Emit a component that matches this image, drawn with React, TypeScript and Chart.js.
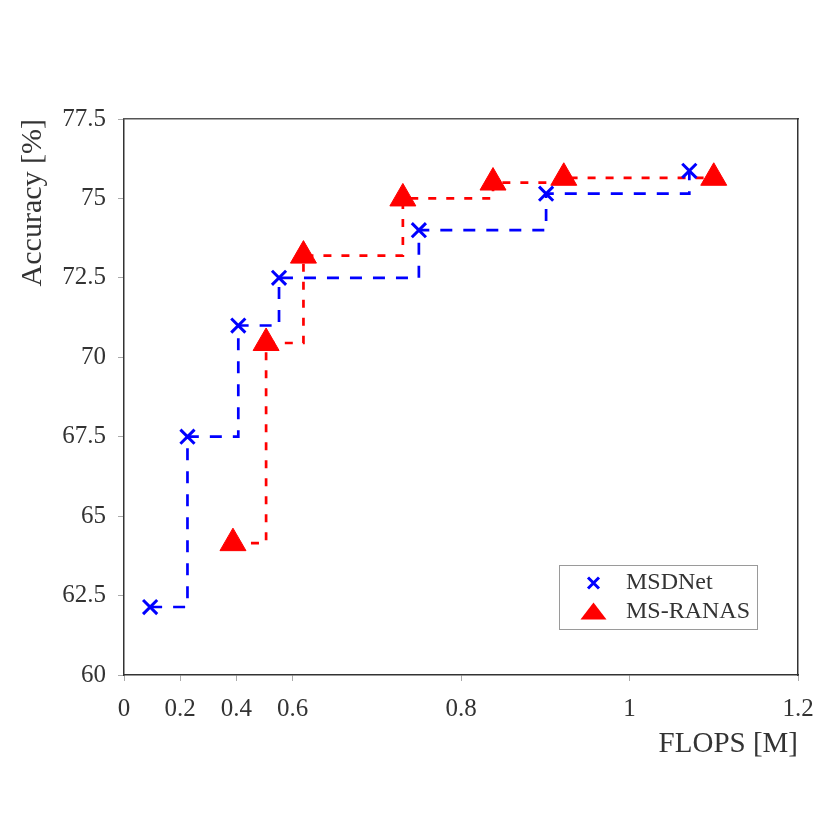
import React, { useEffect, useRef } from "react";
import { Chart, LinearScale, registerables } from "chart.js";

// ---------- data ----------
const seriesNames = ["MSDNet", "MS-RANAS"];
const msdnetFlops = [0.093, 0.226, 0.407, 0.552, 0.75, 0.901, 1.071];
const msdnetAccuracy = [62.14, 67.5, 71.0, 72.5, 74.0, 75.15, 75.87];
const msranasFlops = [0.388, 0.506, 0.613, 0.731, 0.838, 0.922, 1.1];
const msranasAccuracy = [64.15, 70.45, 73.2, 75.0, 75.5, 75.65, 75.65];

const xTickValues = [0, 0.2, 0.4, 0.6, 0.8, 1, 1.2];
const xTickLabels = ["0", "0.2", "0.4", "0.6", "0.8", "1", "1.2"];
const yTickValues = [60, 62.5, 65, 67.5, 70, 72.5, 75, 77.5];
const yTickLabels = ["60", "62.5", "65", "67.5", "70", "72.5", "75", "77.5"];

// the x axis of the original is piecewise linear: 0..0.6 takes the first quarter
const xBreakValues = [0, 0.6, 1.2];
const xBreakFractions = [0, 0.25, 1];

function valueToFraction(v: number): number {
  for (let i = 1; i < xBreakValues.length; i++) {
    if (v <= xBreakValues[i] || i === xBreakValues.length - 1) {
      const a = xBreakValues[i - 1], b = xBreakValues[i];
      const fa = xBreakFractions[i - 1], fb = xBreakFractions[i];
      return fa + ((v - a) / (b - a)) * (fb - fa);
    }
  }
  return 0;
}
function fractionToValue(f: number): number {
  for (let i = 1; i < xBreakFractions.length; i++) {
    if (f <= xBreakFractions[i] || i === xBreakFractions.length - 1) {
      const a = xBreakFractions[i - 1], b = xBreakFractions[i];
      const va = xBreakValues[i - 1], vb = xBreakValues[i];
      return va + ((f - a) / (b - a)) * (vb - va);
    }
  }
  return 0;
}

class PiecewiseLinearScale extends LinearScale {
  static id = "piecewiseLinear";
  static defaults = LinearScale.defaults;
  getPixelForValue(value: number) {
    return this.getPixelForDecimal(valueToFraction(value));
  }
  getValueForPixel(pixel: number) {
    return fractionToValue(this.getDecimalForPixel(pixel));
  }
}

Chart.register(...registerables, PiecewiseLinearScale as any);

const FONT = "'Liberation Serif', 'Times New Roman', serif";
const TEXT = "#333333";
const BLUE = "#0000ff";
const RED = "#ff0000";

const boxLegend = {
  id: "boxLegend",
  afterDatasetsDraw(chart: any) {
    const { ctx, chartArea } = chart;
    const right = chartArea.right - 42;
    const bottom = chartArea.bottom - 47;
    const w = 197.5;
    const h = 63.5;
    const left = right - w;
    const top = bottom - h;
    ctx.save();
    ctx.fillStyle = "#ffffff";
    ctx.fillRect(left, top, w, h);
    ctx.strokeStyle = "#9a9a9a";
    ctx.lineWidth = 1;
    ctx.strokeRect(Math.round(left) + 0.5, Math.round(top) + 0.5, Math.round(w), Math.round(h));
    const ds = chart.data.datasets;
    const rows = [top + 18.5, top + 47];
    const mx = left + 35;
    ds.forEach((d: any, i: number) => {
      const cy = rows[i];
      ctx.strokeStyle = d.pointBorderColor;
      ctx.fillStyle = d.pointBackgroundColor;
      if (d.pointStyle === "crossRot") {
        ctx.lineWidth = 3;
        ctx.beginPath();
        ctx.moveTo(mx - 5.5, cy - 5.5);
        ctx.lineTo(mx + 5.5, cy + 5.5);
        ctx.moveTo(mx + 5.5, cy - 5.5);
        ctx.lineTo(mx - 5.5, cy + 5.5);
        ctx.stroke();
      } else {
        ctx.beginPath();
        ctx.moveTo(mx, cy - 9);
        ctx.lineTo(mx + 13, cy + 8);
        ctx.lineTo(mx - 13, cy + 8);
        ctx.closePath();
        ctx.fill();
      }
      ctx.fillStyle = TEXT;
      ctx.font = `24px ${FONT}`;
      ctx.textAlign = "left";
      ctx.textBaseline = "middle";
      ctx.fillText(d.label, left + 67.5, cy);
    });
    ctx.restore();
  },
};

export default function App() {
  const ref = useRef<HTMLCanvasElement>(null);
  useEffect(() => {
    const canvas = ref.current;
    if (!canvas) return;
    const chart = new Chart(canvas, {
      type: "line",
      data: {
        datasets: [
          {
            label: seriesNames[0],
            data: msdnetFlops.map((x, i) => ({ x, y: msdnetAccuracy[i] })),
            borderColor: BLUE,
            borderWidth: 2.7,
            borderDash: [12, 11],
            stepped: true,
            fill: false,
            pointStyle: "crossRot",
            pointRadius: 10,
            pointBorderWidth: 3,
            pointBorderColor: BLUE,
            pointBackgroundColor: BLUE,
          } as any,
          {
            label: seriesNames[1],
            data: msranasFlops.map((x, i) => ({ x, y: msranasAccuracy[i] })),
            borderColor: RED,
            borderWidth: 2.7,
            borderDash: [8, 10],
            stepped: true,
            fill: false,
            pointStyle: "triangle",
            pointRadius: 15,
            pointBorderWidth: 1,
            pointBorderColor: RED,
            pointBackgroundColor: RED,
          } as any,
        ],
      },
      options: {
        responsive: false,
        animation: false,
        events: [],
        layout: { padding: { left: 0, top: 119, right: 32, bottom: 0 } },
        plugins: { legend: { display: false }, tooltip: { enabled: false } },
        scales: {
          x: {
            type: "piecewiseLinear" as any,
            position: "bottom",
            min: 0,
            max: 1.2,
            afterBuildTicks: (s: any) => {
              s.ticks = xTickValues.map((v) => ({ value: v }));
            },
            afterFit: (s: any) => {
              s.height = 156;
            },
            ticks: {
              autoSkip: false,
              maxRotation: 0,
              padding: 13,
              color: TEXT,
              font: { family: FONT, size: 25 },
              callback: (_v: any, i: number) => xTickLabels[i],
            },
            grid: { display: true, drawOnChartArea: false, drawTicks: true, tickLength: 6, color: "#aaaaaa", lineWidth: 1 },
            border: { display: true, color: "#333333", width: 1.5 },
            title: {
              display: true,
              text: "FLOPS [M]",
              align: "end",
              color: TEXT,
              font: { family: FONT, size: 29 },
              padding: { bottom: 69 },
            },
          } as any,
          y: {
            type: "linear",
            position: "left",
            min: 60,
            max: 77.5,
            afterBuildTicks: (s: any) => {
              s.ticks = yTickValues.map((v) => ({ value: v }));
            },
            afterFit: (s: any) => {
              s.width = 124;
            },
            ticks: {
              autoSkip: false,
              padding: 12,
              color: TEXT,
              font: { family: FONT, size: 25 },
              callback: (_v: any, i: number) => yTickLabels[i],
            },
            grid: { display: true, drawOnChartArea: false, drawTicks: true, tickLength: 6, color: "#aaaaaa", lineWidth: 1 },
            border: { display: true, color: "#333333", width: 1.5 },
            title: {
              display: true,
              text: "Accuracy [%]",
              align: "end",
              color: TEXT,
              font: { family: FONT, size: 30 },
              padding: { top: 15 },
            },
          } as any,
          x2: {
            type: "linear",
            position: "top",
            display: true,
            ticks: { display: false },
            grid: { display: false },
            border: { display: true, color: "#555555", width: 1.5 },
            afterFit: (s: any) => {
              s.height = 0;
            },
          } as any,
          y2: {
            type: "linear",
            position: "right",
            display: true,
            ticks: { display: false },
            grid: { display: false },
            border: { display: true, color: "#333333", width: 1.5 },
            afterFit: (s: any) => {
              s.width = 0;
            },
          } as any,
        },
      },
      plugins: [boxLegend],
    });
    return () => chart.destroy();
  }, []);
  return (
    <div style={{ position: "fixed", left: 0, top: 0, width: 830, height: 831, background: "#ffffff" }}>
      <canvas ref={ref} width={830} height={831} style={{ display: "block" }} />
    </div>
  );
}
